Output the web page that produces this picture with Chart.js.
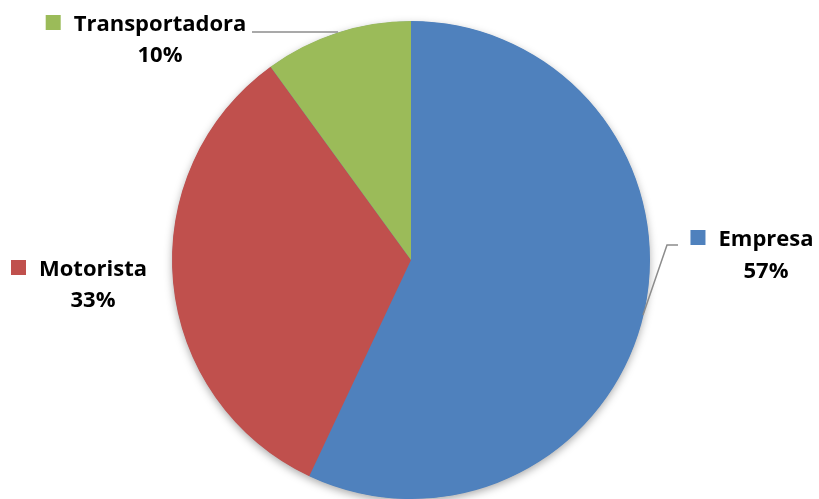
<!DOCTYPE html>
<html>
<head>
<meta charset="utf-8">
<script src="https://cdn.jsdelivr.net/npm/chart.js@4"></script>
<style>
html,body{margin:0;padding:0;background:#fff;}
#wrap{width:819px;height:499px;position:relative;}
</style>
</head>
<body>
<div id="wrap"><canvas id="c" width="819" height="499"></canvas></div>
<script>
const categories = ["Empresa", "Motorista", "Transportadora"];
const values = [57, 33, 10];
const percentLabels = ["57%", "33%", "10%"];
const colors = ["#4F81BD", "#C0504D", "#9BBB59"];

// label placement (layout only)
const labelPos = [
  {cx: 766, y1: 246, y2: 278, line: [[678,245],[667,245],[643,315]]},
  {cx: 93,  y1: 276, y2: 307, line: null},
  {cx: 160, y1: 31,  y2: 62,  line: [[252,32],[338,32]]}
];

const shadowPlugin = {
  id: 'pieShadow',
  beforeDatasetsDraw(chart) {
    const meta = chart.getDatasetMeta(0);
    const a = meta.data[0];
    if (!a) return;
    const ctx = chart.ctx;
    ctx.save();
    ctx.shadowColor = 'rgba(0,0,0,0.35)';
    ctx.shadowBlur = 8;
    ctx.shadowOffsetY = 3;
    ctx.fillStyle = '#4F81BD';
    ctx.beginPath();
    ctx.arc(a.x, a.y, a.outerRadius - 0.5, 0, Math.PI * 2);
    ctx.fill();
    ctx.restore();
  }
};

const labelPlugin = {
  id: 'pieLabels',
  afterDatasetsDraw(chart) {
    const ctx = chart.ctx;
    ctx.save();
    ctx.font = 'bold 22px "Open Sans", sans-serif';
    ctx.textBaseline = 'alphabetic';
    categories.forEach((name, i) => {
      const p = labelPos[i];
      if (p.line) {
        ctx.strokeStyle = '#8c8c8c';
        ctx.lineWidth = 1.5;
        ctx.beginPath();
        p.line.forEach((pt, k) => k === 0 ? ctx.moveTo(pt[0], pt[1]) : ctx.lineTo(pt[0], pt[1]));
        ctx.stroke();
      }
      const w = ctx.measureText(name).width;
      const left = p.cx - w / 2;
      ctx.fillStyle = colors[i];
      ctx.fillRect(left - 28, p.y1 - 16, 15, 15);
      ctx.fillStyle = '#000';
      ctx.textAlign = 'center';
      ctx.fillText(name, p.cx, p.y1);
      ctx.fillText(percentLabels[i], p.cx, p.y2);
    });
    ctx.restore();
  }
};

new Chart(document.getElementById('c'), {
  type: 'pie',
  data: {
    labels: categories,
    datasets: [{
      data: values,
      backgroundColor: colors,
      borderWidth: 0
    }]
  },
  options: {
    responsive: false,
    animation: false,
    rotation: 0,
    layout: {padding: {left: 3, top: 21, right: 0, bottom: 0}},
    plugins: {legend: {display: false}, tooltip: {enabled: false}}
  },
  plugins: [shadowPlugin, labelPlugin]
});
</script>
</body>
</html>
